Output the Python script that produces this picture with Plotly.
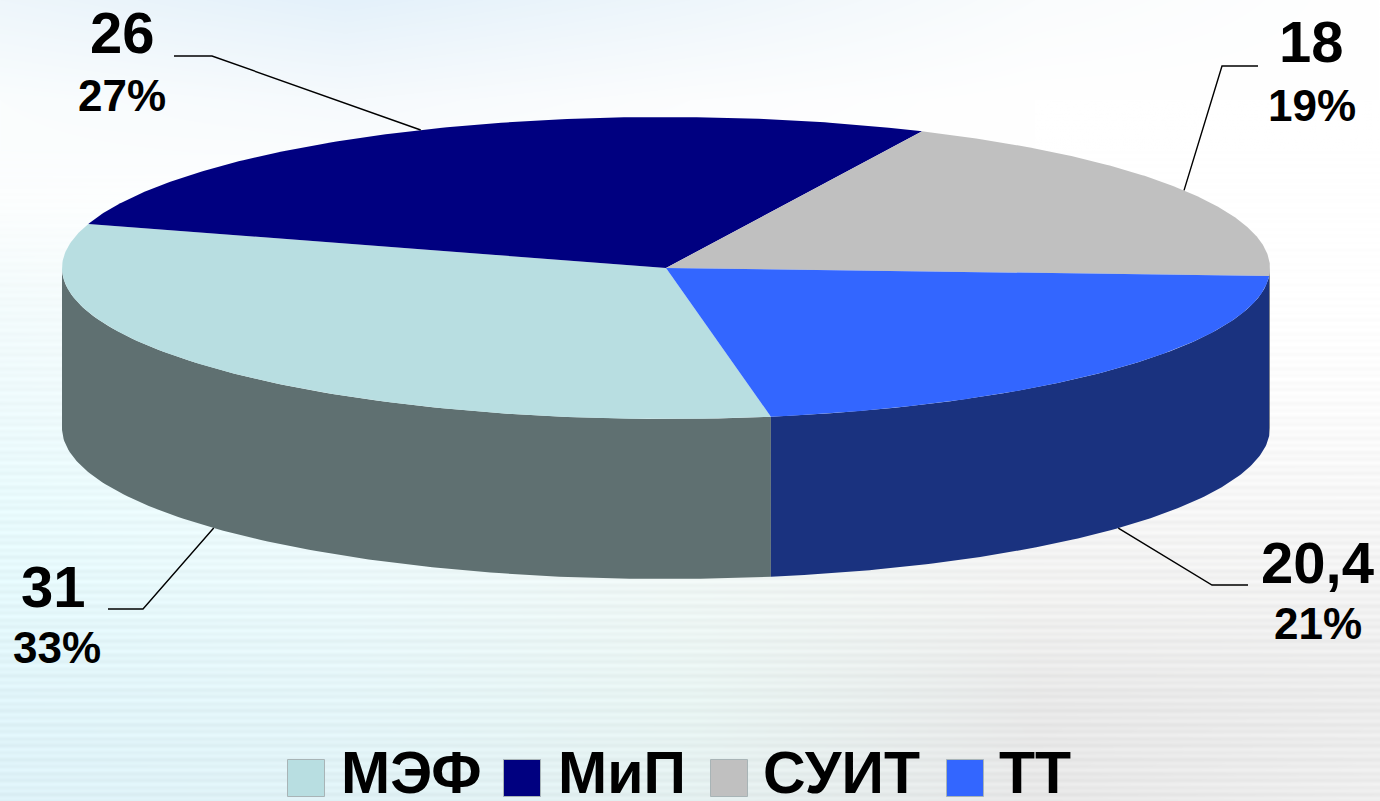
import base64, struct, zlib
import numpy as np
import plotly.graph_objects as go

# ---- data ----
categories = ["МЭФ", "МиП", "СУИТ", "ТТ"]
values = [31, 26, 18, 20.4]
value_labels = ["31", "26", "18", "20,4"]
percent_labels = ["33%", "27%", "19%", "21%"]

# ---- styling / layout ----
top_colors = ["#B8DEE1", "#000080", "#C0C0C0", "#3366FF"]
side_colors = ["#5F7071", "#5A0000", "#7F7F7F", "#1A327F"]
W, H = 1380, 801
CX, CY, RX, RY, DEPTH = 666, 268, 604, 151, 160
START = -80.0      # ellipse parameter where the first slice begins; slices run clockwise

elbows = [((143, 609), (108, 609)), ((212, 56), (174, 56)),
          ((1222, 66), (1258, 66)), ((1212, 585), (1248, 585))]
value_pos = [(53, 586), (122, 32), (1311, 41), (1317, 562)]
percent_pos = [(57, 647), (122, 95), (1312, 105), (1318, 623)]
legend_sq = [(306, 778), (522, 778), (729, 778), (965, 778)]
legend_tx = [339, 556, 761, 997]

# background colour control grid (rows top to bottom, columns left to right)
bg_grid = np.array([
    [[238,246,251],[228,241,250],[238,246,251],[250,252,253],[255,255,255]],
    [[250,253,254],[246,250,253],[252,253,254],[255,255,255],[255,255,255]],
    [[252,254,254],[255,255,255],[255,255,255],[255,255,255],[255,255,255]],
    [[243,251,252],[250,253,253],[255,255,255],[255,255,255],[255,255,255]],
    [[238,250,252],[245,252,252],[250,252,252],[252,252,252],[252,252,252]],
    [[232,250,252],[240,251,252],[246,250,250],[246,246,246],[247,247,247]],
    [[228,248,251],[234,248,250],[238,246,244],[241,241,240],[242,242,242]],
    [[224,244,249],[228,245,248],[232,244,242],[232,232,232],[236,236,236]],
    [[222,242,248],[224,242,246],[228,240,240],[232,232,232],[238,238,238]],
], dtype=float)


def background_uri():
    ry = np.linspace(0, bg_grid.shape[0] - 1, H)
    rx = np.linspace(0, bg_grid.shape[1] - 1, W)
    y0 = np.minimum(ry.astype(int), bg_grid.shape[0] - 2)
    x0 = np.minimum(rx.astype(int), bg_grid.shape[1] - 2)
    fy = (ry - y0)[:, None, None]
    fx = (rx - x0)[None, :, None]
    img = (bg_grid[y0][:, x0] * (1 - fy) * (1 - fx) + bg_grid[y0 + 1][:, x0] * fy * (1 - fx)
           + bg_grid[y0][:, x0 + 1] * (1 - fy) * fx + bg_grid[y0 + 1][:, x0 + 1] * fy * fx)
    yy = np.arange(H)
    amp = np.clip((yy - 150) / 400, 0, 1) * 3.0
    stripes = amp * (np.sin(yy * 0.9) + 0.6 * np.sin(yy * 0.37))
    img = np.clip(img + stripes[:, None, None], 0, 255).astype(np.uint8)
    raw = b"".join(b"\x00" + img[r].tobytes() for r in range(H))

    def chunk(t, d):
        return struct.pack(">I", len(d)) + t + d + struct.pack(">I", zlib.crc32(t + d) & 0xffffffff)
    png = (b"\x89PNG\r\n\x1a\n" + chunk(b"IHDR", struct.pack(">IIBBBBB", W, H, 8, 2, 0, 0, 0))
           + chunk(b"IDAT", zlib.compress(raw, 9)) + chunk(b"IEND", b""))
    return "data:image/png;base64," + base64.b64encode(png).decode()


def point(deg, drop=0.0):
    t = np.radians(deg)
    return CX + RX * np.cos(t), CY - RY * np.sin(t) + drop


total = sum(values)
spans = [v / total * 360 for v in values]
bounds = [START - sum(spans[:i]) for i in range(len(values) + 1)]

fig = go.Figure()

# side wall: only the front half of each slice (sin < 0) is visible
for i in range(len(values)):
    a, b = bounds[i + 1], bounds[i]      # a < b
    for k in (-1, 0):
        lo, hi = max(a, -180 + 360 * k), min(b, 360 * k)
        if hi <= lo:
            continue
        ts = np.linspace(lo, hi, 120)
        x1, y1 = point(ts)
        x2, y2 = point(ts[::-1], DEPTH)
        fig.add_trace(go.Scatter(x=np.r_[x1, x2], y=np.r_[y1, y2], mode="lines", fill="toself",
                                 fillcolor=side_colors[i], line=dict(width=0, color=side_colors[i]),
                                 hoverinfo="skip", showlegend=False))

# top face
for i in range(len(values)):
    ts = np.linspace(bounds[i], bounds[i + 1], 200)
    x, y = point(ts)
    fig.add_trace(go.Scatter(x=np.r_[CX, x, CX], y=np.r_[CY, y, CY], mode="lines", fill="toself",
                             fillcolor=top_colors[i], line=dict(width=0, color=top_colors[i]),
                             name=categories[i], text=[f"{categories[i]}: {value_labels[i]} ({percent_labels[i]})"] * (len(ts) + 2),
                             hoverinfo="text", showlegend=False))

# leader lines run from each slice's mid angle to its label
for i in range(len(values)):
    mid = (bounds[i] + bounds[i + 1]) / 2
    drop = DEPTH if np.sin(np.radians(mid)) < 0 else 0
    px, py = point(mid, drop)
    (ex, ey), (tx, ty) = elbows[i]
    fig.add_trace(go.Scatter(x=[px, ex, tx], y=[py, ey, ty], mode="lines",
                             line=dict(color="#000000", width=1.4), hoverinfo="skip", showlegend=False))

# legend keys
for i, (sx, sy) in enumerate(legend_sq):
    fig.add_trace(go.Scatter(x=[sx], y=[sy], mode="markers",
                             marker=dict(symbol="square", size=37, color=top_colors[i],
                                         line=dict(color="#A8B4B6", width=1)),
                             hoverinfo="skip", showlegend=False))

FONT = "Liberation Sans"
ann = []
for i in range(len(values)):
    ann.append(dict(x=value_pos[i][0], y=value_pos[i][1], text=f"<b>{value_labels[i]}</b>", showarrow=False,
                    xanchor="center", yanchor="middle", font=dict(family=FONT, size=58, color="#000000")))
    ann.append(dict(x=percent_pos[i][0], y=percent_pos[i][1], text=f"<b>{percent_labels[i]}</b>", showarrow=False,
                    xanchor="center", yanchor="middle", font=dict(family=FONT, size=44, color="#000000")))
    ann.append(dict(x=legend_tx[i], y=773, text=f"<b>{categories[i]}</b>", showarrow=False,
                    xanchor="left", yanchor="middle", font=dict(family=FONT, size=59, color="#000000")))

fig.update_layout(
    width=W, height=H, margin=dict(l=0, r=0, t=0, b=0), showlegend=False,
    paper_bgcolor="#FFFFFF", plot_bgcolor="rgba(0,0,0,0)",
    xaxis=dict(range=[0, W], visible=False, fixedrange=True),
    yaxis=dict(range=[H, 0], visible=False, fixedrange=True),
    annotations=ann,
    images=[dict(source=background_uri(), xref="x", yref="y", x=0, y=0, sizex=W, sizey=H,
                 sizing="stretch", xanchor="left", yanchor="top", layer="below")],
)
fig.write_html("out.html", config={"displayModeBar": False},
               post_script="document.body.style.margin='0';document.documentElement.style.overflow='hidden';")
